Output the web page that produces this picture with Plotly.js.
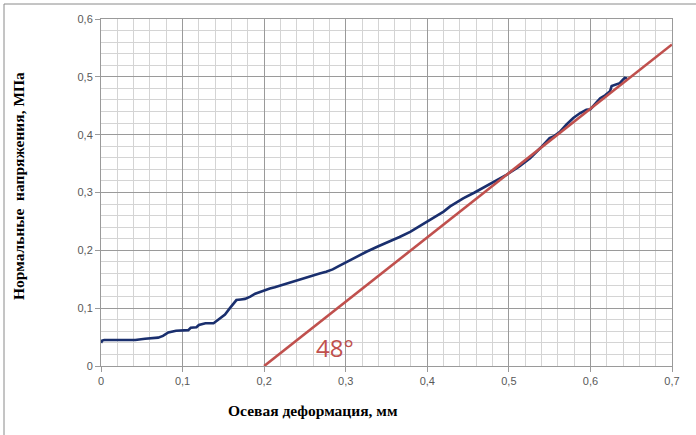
<!DOCTYPE html>
<html>
<head>
<meta charset="utf-8">
<script src="https://cdn.plot.ly/plotly-3.0.1.min.js"></script>
<style>html,body{margin:0;padding:0;background:#fff;}#chart{width:696px;height:435px;}</style>
</head>
<body>
<div id="chart"></div>
<script>
// Blue curve: axial deformation (mm) vs normal stress (MPa)
const strainX = [0.000, 0.0015, 0.004, 0.02, 0.042, 0.054, 0.070, 0.076, 0.0825, 0.092, 0.099, 0.107, 0.110, 0.117, 0.120, 0.128, 0.138, 0.142, 0.146, 0.152, 0.158, 0.163, 0.166, 0.1715, 0.1765, 0.183, 0.189, 0.195, 0.201, 0.207, 0.213, 0.222, 0.232, 0.244, 0.256, 0.268, 0.276, 0.284, 0.292, 0.301, 0.313, 0.326, 0.340, 0.354, 0.366, 0.379, 0.391, 0.403, 0.412, 0.420, 0.428, 0.436, 0.444, 0.458, 0.473, 0.485, 0.497, 0.512, 0.526, 0.538, 0.550, 0.556, 0.560, 0.563, 0.571, 0.579, 0.587, 0.595, 0.600, 0.6035, 0.608, 0.612, 0.618, 0.624, 0.626, 0.631, 0.636, 0.639, 0.642, 0.645];
const stressY = [0.040, 0.044, 0.045, 0.045, 0.045, 0.047, 0.049, 0.052, 0.058, 0.061, 0.062, 0.062, 0.066, 0.067, 0.071, 0.074, 0.074, 0.078, 0.083, 0.089, 0.100, 0.110, 0.114, 0.115, 0.116, 0.120, 0.125, 0.128, 0.1315, 0.134, 0.136, 0.140, 0.145, 0.150, 0.155, 0.160, 0.163, 0.167, 0.173, 0.180, 0.189, 0.198, 0.207, 0.215, 0.223, 0.232, 0.242, 0.253, 0.260, 0.267, 0.276, 0.283, 0.290, 0.300, 0.3115, 0.321, 0.3306, 0.344, 0.3594, 0.376, 0.394, 0.398, 0.402, 0.4055, 0.418, 0.4287, 0.437, 0.443, 0.444, 0.449, 0.457, 0.463, 0.468, 0.475, 0.484, 0.487, 0.489, 0.494, 0.498, 0.497];
// Red tangent line (48 degrees)
const tangentX = [0.2, 0.7];
const tangentY = [0.0, 0.556];
const xTicks = [0, 0.1, 0.2, 0.3, 0.4, 0.5, 0.6, 0.7];
const xTickText = ['0', '0,1', '0,2', '0,3', '0,4', '0,5', '0,6', '0,7'];
const yTicks = [0, 0.1, 0.2, 0.3, 0.4, 0.5, 0.6];
const yTickText = ['0', '0,1', '0,2', '0,3', '0,4', '0,5', '0,6'];

const L = 101, R = 672, T = 19, B = 366, W = 696, H = 435;
const px = v => (v - L) / (R - L);
const py = v => (B - v) / (B - T);

const tickFont = {family: 'Liberation Sans, Arial, sans-serif', size: 11, color: '#595959'};
const titleFont = {family: 'Liberation Serif, Times New Roman, serif', size: 15.5, color: '#000'};

const data = [
  {x: strainX, y: stressY, type: 'scatter', mode: 'lines',
   line: {color: '#1a2f6e', width: 2.6}, hoverinfo: 'skip'},
  {x: tangentX, y: tangentY, type: 'scatter', mode: 'lines',
   line: {color: '#c0504d', width: 2.6}, hoverinfo: 'skip'}
];

const layout = {
  width: W, height: H,
  margin: {l: L, r: W - R, t: T, b: H - B},
  paper_bgcolor: '#fff', plot_bgcolor: '#fff',
  showlegend: false,
  xaxis: {
    range: [0, 0.7], tickvals: xTicks, ticktext: xTickText,
    showgrid: true, gridcolor: '#9a9a9a', gridwidth: 1,
    minor: {dtick: 0.02, showgrid: true, gridcolor: '#d4d4d4', gridwidth: 1},
    showline: true, linecolor: '#9a9a9a', mirror: true,
    ticks: 'outside', ticklen: 5, tickcolor: '#9a9a9a',
    zeroline: false, tickfont: tickFont, fixedrange: true
  },
  yaxis: {
    range: [0, 0.6], tickvals: yTicks, ticktext: yTickText,
    showgrid: true, gridcolor: '#9a9a9a', gridwidth: 1,
    minor: {dtick: 0.02, showgrid: true, gridcolor: '#d4d4d4', gridwidth: 1},
    showline: true, linecolor: '#9a9a9a', mirror: true,
    ticks: 'outside', ticklen: 5, tickcolor: '#9a9a9a',
    zeroline: false, tickfont: tickFont, fixedrange: true
  },
  annotations: [
    {xref: 'paper', yref: 'paper', x: px(313), y: py(410), text: '<b>Осевая деформация, мм</b>',
     showarrow: false, font: titleFont, xanchor: 'center', yanchor: 'middle'},
    {xref: 'paper', yref: 'paper', x: px(18), y: py(186), text: '<b>Нормальные  напряжения, МПа</b>',
     textangle: -90, showarrow: false, font: titleFont, xanchor: 'center', yanchor: 'middle'},
    {xref: 'x', yref: 'y', x: 0.287, y: 0.032, text: '48°', showarrow: false,
     font: {family: 'Open Sans, Liberation Sans, sans-serif', size: 24, color: '#c0504d'},
     xanchor: 'center', yanchor: 'middle'}
  ],
  shapes: [
    {type: 'line', xref: 'paper', yref: 'paper', x0: px(4), x1: px(4), y0: py(4), y1: py(435),
     line: {color: '#8a8a8a', width: 1}},
    {type: 'line', xref: 'paper', yref: 'paper', x0: px(4), x1: px(696), y0: py(4), y1: py(4),
     line: {color: '#8a8a8a', width: 1}}
  ]
};

Plotly.newPlot('chart', data, layout, {staticPlot: true, displayModeBar: false});
</script>
</body>
</html>
